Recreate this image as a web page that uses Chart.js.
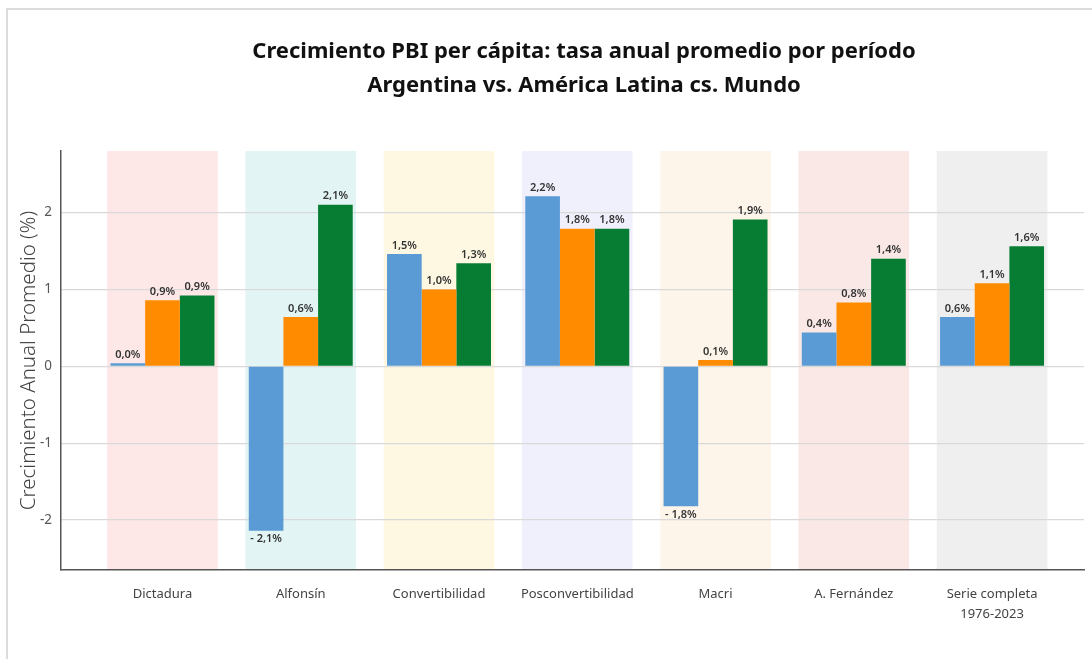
<!DOCTYPE html>
<html>
<head>
<meta charset="utf-8">
<script src="https://cdn.jsdelivr.net/npm/chart.js@4"></script>
<style>
  body { margin: 0; background: #fff; }
  #frame { position: absolute; left: 6px; top: 8px; width: 1200px; height: 800px; border: 2px solid #dcdcdc; }
  #wrap { position: absolute; left: 0; top: 0; width: 1092px; height: 659px; }
</style>
</head>
<body>
<div id="frame"></div>
<div id="wrap"><canvas id="myChart"></canvas></div>
<script>
const categories = ['Dictadura', 'Alfonsín', 'Convertibilidad', 'Posconvertibilidad', 'Macri', 'A. Fernández', ['Serie completa', '1976-2023']];
const argentina = [0.04, -2.14, 1.46, 2.21, -1.82, 0.44, 0.64];
const americaLatina = [0.86, 0.64, 1.0, 1.79, 0.08, 0.83, 1.08];
const mundo = [0.92, 2.1, 1.34, 1.79, 1.91, 1.4, 1.56];
const bandColors = ['#fde7e7', '#e2f5f4', '#fef8e3', '#f0effc', '#fdf5e9', '#f9e8e5', '#eeefee'];
const yTicks = [-2, -1, 0, 1, 2];
const titleLines = ['Crecimiento PBI per cápita: tasa anual promedio por período', 'Argentina vs. América Latina cs. Mundo'];

const FONT = '"Noto Sans", sans-serif';

// franjas de color detras de cada periodo
const bandPlugin = {
  id: 'bands',
  beforeDraw(chart) {
    const { ctx, chartArea, scales: { x } } = chart;
    const step = x.getPixelForValue(1) - x.getPixelForValue(0);
    const w = step * 0.8;
    ctx.save();
    bandColors.forEach((c, i) => {
      const cx = x.getPixelForValue(i);
      ctx.fillStyle = c;
      ctx.fillRect(cx - w / 2, chartArea.top, w, chartArea.bottom - chartArea.top);
    });
    ctx.restore();
  },
};

const fmt = (v) => {
  const s = Math.abs(v).toFixed(1).replace('.', ',') + '%';
  return v < 0 ? '- ' + s : s;
};

const labelPlugin = {
  id: 'valueLabels',
  afterDatasetsDraw(chart) {
    const { ctx } = chart;
    ctx.save();
    ctx.font = '600 11px ' + FONT;
    ctx.fillStyle = '#333';
    ctx.textAlign = 'center';
    chart.data.datasets.forEach((ds, di) => {
      chart.getDatasetMeta(di).data.forEach((bar, i) => {
        const v = ds.data[i].y;
        if (v < 0) {
          ctx.textBaseline = 'top';
          ctx.fillText(fmt(v), bar.x, bar.y + 3);
        } else {
          ctx.textBaseline = 'bottom';
          ctx.fillText(fmt(v), bar.x, bar.y - 3);
        }
      });
    });
    ctx.restore();
  },
};

const titlePlugin = {
  id: 'bigTitle',
  afterDraw(chart) {
    const { ctx } = chart;
    ctx.save();
    ctx.font = 'bold 22px ' + FONT;
    ctx.fillStyle = '#111';
    ctx.textAlign = 'center';
    ctx.textBaseline = 'middle';
    ctx.fillText(titleLines[0], 584, 52);
    ctx.fillText(titleLines[1], 584, 86);
    ctx.restore();
  },
};

const toPoints = (arr) => arr.map((v, i) => ({ x: i, y: v }));

const ctx = document.getElementById('myChart').getContext('2d');
const myChart = new Chart(ctx, {
  type: 'bar',
  data: {
    datasets: [
      { label: 'Argentina', data: toPoints(argentina), backgroundColor: '#5b9bd5' },
      { label: 'América Latina', data: toPoints(americaLatina), backgroundColor: '#ff8c00' },
      { label: 'Mundo', data: toPoints(mundo), backgroundColor: '#077d34' },
    ],
  },
  options: {
    responsive: true,
    maintainAspectRatio: false,
    animation: false,
    layout: { padding: { top: 151, right: 8, bottom: 0, left: 0 } },
    datasets: { bar: { categoryPercentage: 0.752, barPercentage: 1.0 } },
    plugins: {
      legend: { display: false },
      tooltip: { enabled: false },
    },
    scales: {
      x: {
        type: 'linear',
        offset: false,
        min: -0.734,
        max: 6.665,
        afterBuildTicks(scale) {
          scale.ticks = categories.map((c, i) => ({ value: i }));
        },
        afterFit(scale) {
          scale.height = 89;
        },
        grid: { display: false, drawTicks: false },
        border: { display: true, color: '#555', width: 1.5 },
        ticks: {
          padding: 15,
          color: '#444',
          font: { family: FONT, size: 13, lineHeight: 1.5 },
          maxRotation: 0,
          autoSkip: false,
          callback: (value) => categories[value],
        },
      },
      y: {
        min: -2.65,
        max: 2.8,
        afterBuildTicks(scale) {
          scale.ticks = yTicks.map((v) => ({ value: v }));
        },
        afterFit(scale) {
          scale.width = 61;
        },
        grid: { color: '#d9d9d9', lineWidth: 1.2, drawTicks: false },
        border: { display: true, color: '#555', width: 1.5 },
        ticks: {
          padding: 9,
          color: '#555',
          font: { family: FONT, size: 13.5 },
          includeBounds: false,
        },
        title: {
          display: true,
          text: 'Crecimiento Anual Promedio (%)',
          color: '#444',
          font: { family: FONT, size: 20.5, weight: '300' },
          padding: { top: 17, bottom: 0 },
        },
      },
    },
  },
  plugins: [bandPlugin, labelPlugin, titlePlugin],
});
</script>
</body>
</html>
